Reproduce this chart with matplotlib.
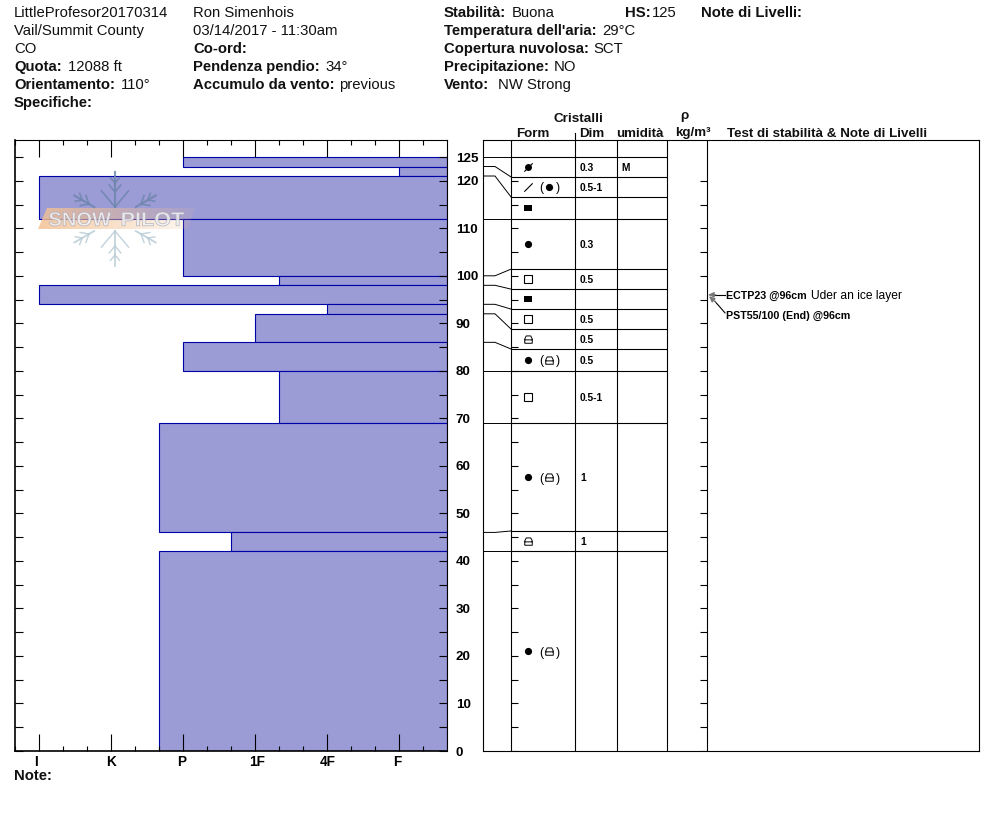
import numpy as np
import matplotlib
matplotlib.use('Agg')
from matplotlib import pyplot as plt
from matplotlib.patches import PathPatch, Polygon
from matplotlib.path import Path
from matplotlib.textpath import TextPath
from matplotlib.font_manager import FontProperties
from matplotlib.transforms import Affine2D, ScaledTranslation

plt.rcParams['font.family'] = ['Liberation Sans', 'DejaVu Sans']

# snow layers, top to bottom
layer_top = [125, 123, 121, 112, 100, 98, 94, 92, 86, 80, 69, 46, 42]
layer_bottom = [123, 121, 112, 100, 98, 94, 92, 86, 80, 69, 46, 42, 0]
layer_hardness = [2, 5, 0, 2, 3.33, 0, 4, 3, 2, 3.33, 1.67, 2.67, 1.67]
# where each layer boundary lands in the crystal table
row_top = [125, 120.8, 116.6, 112, 101.4, 97.2, 93, 88.8, 84.6, 80, 69, 46.3, 42]
row_bottom = [120.8, 116.6, 112, 101.4, 97.2, 93, 88.8, 84.6, 80, 69, 46.3, 42, 0]
form_main = ['slashdot', 'slash', 'rect', 'dot', 'square', 'rect', 'square', 'lock', 'dot', 'square', 'dot', 'lock', 'dot']
form_second = ['', 'dot', '', '', '', '', '', '', 'lock', '', 'lock', '', 'lock']
crystal_size = ['0.3', '0.5-1', '', '0.3', '0.5', '', '0.5', '0.5', '0.5', '0.5-1', '1', '1', '']
moisture = ['M', '', '', '', '', '', '', '', '', '', '', '', '']
hardness_ticks = [0, 1, 2, 3, 4, 5]
hardness_labels = ['I', 'K', 'P', '1F', '4F', 'F']
test_depth = 96

W, H = 994, 840
PX_CM = 4.752
Y0 = 751
Y_TOP = (Y0 - 140) / PX_CM
FILL = '#9b9bd6'
EDGE = '#0000a8'
LW = 0.8

fig = plt.figure(figsize=(W / 100, H / 100), dpi=100, facecolor='white')


def box(x0, x1):
    return [x0 / W, 1 - Y0 / H, (x1 - x0) / W, (Y0 - 140) / H]


def px_text(x, y, s, bold=False, size=10.75):
    fig.text(x / W, 1 - y / H, s, fontsize=size, va='baseline',
             fontweight='bold' if bold else 'normal', color='#111111')


# ---- hardness profile
ax = fig.add_axes(box(15, 447))
ax.barh(layer_bottom, [5.667 - h for h in layer_hardness],
        height=[t - b for t, b in zip(layer_top, layer_bottom)],
        left=layer_hardness, align='edge', color=FILL, edgecolor=EDGE, linewidth=LW)
ax.set_xlim(-1 / 3, 5.667)
ax.set_ylim(0, Y_TOP)
ax.set_axisbelow(False)
ax.set_xticks(hardness_ticks)
ax.set_xticklabels(hardness_labels, fontsize=9.8, fontweight='bold')
ax.set_xticks(np.arange(-1 / 3, 5.6, 1 / 3), minor=True)
ax.set_yticks(np.arange(0, 121, 10))
ax.set_yticks(np.arange(0, 126, 5), minor=True)
ax.tick_params(axis='x', which='major', direction='in', top=True, length=12.2, width=LW, pad=2.6)
ax.tick_params(axis='x', which='minor', direction='in', top=True, length=3.6, width=LW)
ax.tick_params(axis='y', which='both', direction='in', left=True, right=True, length=5.5, width=LW,
               labelleft=False, labelright=True, labelsize=9.6, pad=6.3)
for lab in ax.get_yticklabels():
    lab.set_fontweight('bold')
    lab.set_va('center_baseline')
for tick, dx in zip(ax.xaxis.get_major_ticks(), [-3, 0, -1, 2, 1, -2]):
    lab = tick.label1
    lab.set_transform(lab.get_transform() + ScaledTranslation(dx / 100, 0, fig.dpi_scale_trans))
ax.text(456 / W, 1 - 157 / H, '125', transform=fig.transFigure, fontsize=9.6, fontweight='bold',
        va='center_baseline', clip_on=False)
for side in ['left', 'bottom']:
    ax.spines[side].set_linewidth(1.2)
for side in ['top', 'right']:
    ax.spines[side].set_linewidth(LW)

# ---- crystal table, x is in pixels here
tb = fig.add_axes(box(483, 979))
tb.set_xlim(483, 979)
tb.set_ylim(0, Y_TOP)
tb.set_xticks([])
tb.set_yticks([])
for side in tb.spines.values():
    side.set_linewidth(LW)
tb.vlines([511, 575, 617, 667, 707], 0, Y_TOP, color='black', lw=LW)
tb.plot([575, 575], [Y_TOP, Y_TOP + 1.5], color='black', lw=LW, clip_on=False)
notch = np.arange(0, 121, 5)
tb.hlines(notch, 511, 518, color='black', lw=LW)
tb.hlines(notch, 700, 707, color='black', lw=LW)
tb.hlines(row_top, 511, 667, color='black', lw=LW)
for real, shown in zip(layer_top, row_top):
    bend = 483 if real == shown else 495
    tb.plot([483, bend, 511], [real, real, shown], color='black', lw=0.7)

lock = Path([(-1, -1), (1, -1), (1, 0.15), (0.6, 0.95), (-0.6, 0.95), (-1, 0.15), (-1, -1),
             (-1, -0.1), (1, -0.1)],
            [Path.MOVETO] + [Path.LINETO] * 6 + [Path.MOVETO, Path.LINETO])
slash = Path([(-1, -1), (1, 1)])
rect = Path([(-1, -0.72), (1, -0.72), (1, 0.72), (-1, 0.72), (-1, -0.72)])


def form(x, y, kind):
    if kind == 'dot':
        tb.plot(x, y, 'o', color='black', ms=5.2, mew=0)
    elif kind == 'square':
        tb.plot(x, y, 's', mfc='white', mec='black', ms=5.5, mew=0.8)
    elif kind == 'rect':
        tb.plot(x, y, marker=rect, color='black', ms=5.8, mew=0)
    elif kind == 'lock':
        tb.plot(x, y, marker=lock, mfc='none', mec='black', ms=5.4, mew=0.7)
    elif kind == 'slash':
        tb.plot(x, y, marker=slash, color='black', ms=6, mew=0.8)
    elif kind == 'slashdot':
        tb.plot(x, y, 'o', color='black', ms=5, mew=0)
        tb.plot(x, y, marker=slash, color='black', ms=6, mew=0.8)


for top, bot, f1, f2, size, wet in zip(row_top, row_bottom, form_main, form_second, crystal_size, moisture):
    mid = (top + bot) / 2
    form(528, mid, f1)
    if f2:
        tb.text(541, mid, '(', fontsize=8.8, ha='center', va='center_baseline')
        form(549, mid, f2)
        tb.text(558, mid, ')', fontsize=8.8, ha='center', va='center_baseline')
    tb.text(580, mid, size, fontsize=7.4, fontweight='bold', va='center_baseline')
    tb.text(621, mid, wet, fontsize=7.4, fontweight='bold', va='center_baseline')

# stability tests
tb.plot([725, 714], [test_depth, test_depth], color='black', lw=LW)
tb.plot([725, 715], [92.2, 94.6], color='black', lw=LW)
for start, tip in [((716, test_depth), (708, test_depth)), ((716, 94.4), (709, 95.7))]:
    tb.annotate('', xy=tip, xytext=start,
                arrowprops=dict(arrowstyle='-|>,head_length=0.35,head_width=0.16', color='#777777', lw=0.8,
                                shrinkA=0, shrinkB=0))
tb.text(726, test_depth, 'ECTP23 @96cm', fontsize=7.65, fontweight='bold', va='center_baseline')
tb.text(811, test_depth, 'Uder an ice layer', fontsize=8.65, va='center_baseline')
tb.text(726, 91.8, 'PST55/100 (End) @96cm', fontsize=7.65, fontweight='bold', va='center_baseline')

# ---- watermark on top of the profile, in pixels
wm = fig.add_axes([0, 0, 1, 1], facecolor='none')
wm.axis('off')
gradient = np.zeros((2, 64, 4))
gradient[..., 0] = 0.95
gradient[..., 1] = 0.76
gradient[..., 2] = 0.58
gradient[..., 3] = np.linspace(0.85, 0.12, 64)
img = wm.imshow(gradient, extent=(38, 195, 229, 208), aspect='auto', interpolation='bilinear')
img.set_clip_path(Polygon([(38, 229), (47, 208), (195, 208), (188, 229)], transform=wm.transData))
wm.set_xlim(0, W)
wm.set_ylim(H, 0)

cx, cy = 115, 219
for deg, colour, lw, r0, chevrons in [
        (90, '#6f86ad', 1.5, 12, [(12, 21), (27, 9), (36, 7)]),
        (30, '#6f86ad', 1.5, 24, [(30, 9), (38, 7)]),
        (150, '#6f86ad', 1.5, 24, [(30, 9), (38, 7)]),
        (270, '#b9ccd6', 1.3, 12, [(12, 21), (27, 9), (36, 7)]),
        (210, '#b9ccd6', 1.3, 24, [(30, 9), (38, 7)]),
        (330, '#b9ccd6', 1.3, 24, [(30, 9), (38, 7)])]:
    a = np.radians(deg)
    ux, uy = np.cos(a), -np.sin(a)
    wm.plot([cx + r0 * ux, cx + 47 * ux], [cy + r0 * uy, cy + 47 * uy], color=colour, lw=lw, alpha=0.85)
    for r, blen in chevrons:
        for turn in (-40, 40):
            b = a + np.radians(turn)
            wm.plot([cx + r * ux, cx + r * ux + blen * np.cos(b)],
                    [cy + r * uy, cy + r * uy - blen * np.sin(b)], color=colour, lw=lw * 0.8, alpha=0.85)

fp = FontProperties(family='Liberation Sans', weight='bold')
for word, x0, x1 in [('SNOW', 49, 111), ('PILOT', 122, 184)]:
    tp = TextPath((0, 0), word, size=10, prop=fp)
    bb = tp.get_extents()
    tr = Affine2D().translate(-bb.x0, -bb.y0).scale((x1 - x0) / bb.width, -14 / bb.height).translate(x0, 226)
    wm.add_patch(PathPatch(tp, transform=tr + wm.transData, facecolor='#f2f2f4', edgecolor='#a9a9b5',
                           lw=0.5, alpha=0.85))

# ---- header text
px_text(14, 17, 'LittleProfesor20170314')
px_text(14, 35, 'Vail/Summit County')
px_text(14, 53, 'CO')
px_text(14, 71, 'Quota:', True)
px_text(68, 71, '12088 ft')
px_text(14, 89, 'Orientamento:', True)
px_text(121, 89, '110°')
px_text(14, 107, 'Specifiche:', True)

px_text(193, 17, 'Ron Simenhois')
px_text(193, 35, '03/14/2017 - 11:30am')
px_text(193, 53, 'Co-ord:', True)
px_text(193, 71, 'Pendenza pendio:', True)
px_text(325, 71, '34°')
px_text(193, 89, 'Accumulo da vento:', True)
px_text(339, 89, 'previous')

px_text(444, 17, 'Stabilità:', True)
px_text(512, 17, 'Buona')
px_text(625, 17, 'HS:', True)
px_text(652, 17, '125')
px_text(701, 17, 'Note di Livelli:', True)
px_text(444, 35, "Temperatura dell'aria:", True)
px_text(602, 35, '29°C')
px_text(444, 53, 'Copertura nuvolosa:', True)
px_text(593, 53, 'SCT')
px_text(444, 71, 'Precipitazione:', True)
px_text(554, 71, 'NO')
px_text(444, 89, 'Vento:', True)
px_text(498, 89, 'NW Strong')

px_text(554, 122, 'Cristalli', True, 9.7)
px_text(516, 137, 'Form', True, 9.6)
px_text(579, 137, 'Dim', True, 9.6)
px_text(616, 137, 'umidità', True, 9.6)
px_text(680, 119, 'ρ', True, 9.6)
px_text(675, 136, 'kg/m³', True, 9.6)
px_text(727, 137, 'Test di stabilità & Note di Livelli', True, 9.6)
px_text(14, 780, 'Note:', True, 10.7)

plt.savefig('out.png', dpi=100)
